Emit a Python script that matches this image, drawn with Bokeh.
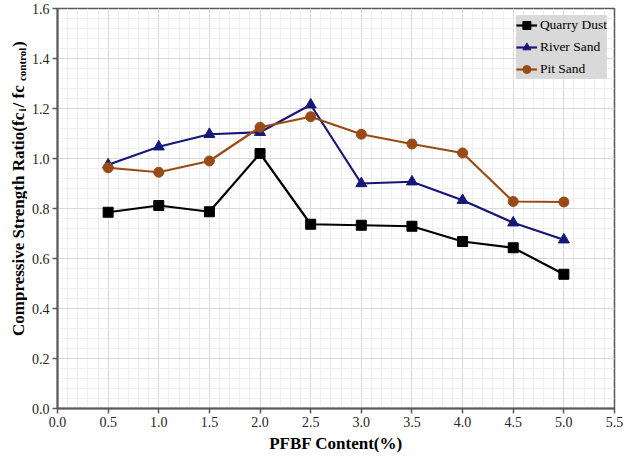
from bokeh.plotting import figure
from bokeh.models import Range1d, SingleIntervalTicker, PrintfTickFormatter, Label
from bokeh.layouts import row
from bokeh.embed import file_html
from bokeh.resources import INLINE

# ---- data ----
pfbf = [0.5, 1.0, 1.5, 2.0, 2.5, 3.0, 3.5, 4.0, 4.5, 5.0]
quarry_dust = [0.785, 0.812, 0.787, 1.020, 0.737, 0.733, 0.729, 0.668, 0.643, 0.537]
river_sand = [0.975, 1.047, 1.097, 1.105, 1.215, 0.900, 0.907, 0.833, 0.743, 0.675]
pit_sand = [0.963, 0.945, 0.990, 1.125, 1.167, 1.097, 1.058, 1.022, 0.828, 0.826]
series_names = ["Quarry Dust", "River Sand", "Pit Sand"]
x_label = "PFBF Content(%)"
y_label_parts = ["Compressive Strength Ratio(fc", "i", " / fc", "control", ")"]

FONT = "Liberation Serif"
H = 455
LW = 27
MW = 624 - LW
TOP, BOT = 8, 47
XMAX, YMAX = 5.5, 1.6

p = figure(width=MW, height=H, output_backend="svg", toolbar_location=None,
           x_range=Range1d(0, XMAX), y_range=Range1d(0, YMAX),
           min_border_left=30, min_border_right=10, min_border_top=TOP, min_border_bottom=BOT)
p.background_fill_color = "white"
p.border_fill_color = "white"
p.outline_line_color = "#595959"
p.outline_line_width = 1.5

p.xaxis.ticker = SingleIntervalTicker(interval=0.5, num_minor_ticks=5)
p.yaxis.ticker = SingleIntervalTicker(interval=0.2, num_minor_ticks=5)
for ax in (p.xaxis, p.yaxis):
    ax.formatter = PrintfTickFormatter(format="%.1f")
    ax.axis_line_color = "#595959"
    ax.axis_line_width = 2
    ax.major_tick_line_color = "#595959"
    ax.major_tick_line_width = 1.5
    ax.major_tick_out = 5
    ax.major_tick_in = 0
    ax.minor_tick_out = 0
    ax.minor_tick_in = 0
    ax.major_label_text_font = FONT
    ax.major_label_text_font_size = "14px"
    ax.major_label_text_color = "#262626"
    ax.major_label_standoff = 3
p.xaxis.axis_label = x_label
p.xaxis.axis_label_text_font = FONT
p.xaxis.axis_label_text_font_style = "bold"
p.xaxis.axis_label_text_font_size = "17px"
p.xaxis.axis_label_text_color = "black"
p.xaxis.axis_label_standoff = 4

p.xgrid.grid_line_color = "#d9d9d9"
p.ygrid.grid_line_color = "#d9d9d9"
p.xgrid.minor_grid_line_color = "#efefef"
p.ygrid.minor_grid_line_color = "#efefef"

styles = [
    (quarry_dust, "black", "square", 10),
    (river_sand, "#17177a", "triangle", 11),
    (pit_sand, "#9a4a14", "circle", 10),
]
for (vals, col, mk, sz), name in zip(styles, series_names):
    p.line(pfbf, vals, line_color=col, line_width=2.2, legend_label=name)
    p.scatter(pfbf, vals, marker=mk, size=sz, fill_color=col, line_color=col, legend_label=name)

lg = p.legend[0]
lg.location = "top_right"
lg.margin = 7
lg.padding = 2
lg.spacing = 2
lg.glyph_width = 21
lg.glyph_height = 20
lg.label_standoff = 3
lg.label_text_font = FONT
lg.label_text_font_size = "13.5px"
lg.label_text_color = "black"
lg.background_fill_color = "#d9d9d9"
lg.background_fill_alpha = 1.0
lg.border_line_color = None

# ---- strip holding the rotated y-axis label (with subscripts) ----
s = figure(width=LW, height=H, output_backend="svg", toolbar_location=None,
           x_range=Range1d(0, LW), y_range=Range1d(0, YMAX),
           min_border_left=0, min_border_right=0, min_border_top=TOP, min_border_bottom=BOT,
           x_axis_type=None, y_axis_type=None)
s.outline_line_color = None
s.background_fill_color = "white"
s.border_fill_color = "white"
s.xgrid.visible = False
s.ygrid.visible = False

x_base = 17.5
y_anchor = 0.29
sizes = [17, 11, 17, 11, 17]
widths_px = [224.5, 4.0, 26.4, 34.2, 5.7]
subs = [False, True, False, True, False]
cum = 0.0
for txt, fs, w, sb in zip(y_label_parts, sizes, widths_px, subs):
    s.add_layout(Label(x=x_base, y=y_anchor, x_offset=3.5 if sb else 0, y_offset=cum, text=txt,
                       angle=1.5707963267948966, text_align="left", text_baseline="alphabetic",
                       text_font=FONT, text_font_style="bold", text_font_size=f"{fs}px",
                       text_color="black"))
    cum += w

layout = row(s, p)
open("out.html", "w").write(file_html(layout, INLINE))
